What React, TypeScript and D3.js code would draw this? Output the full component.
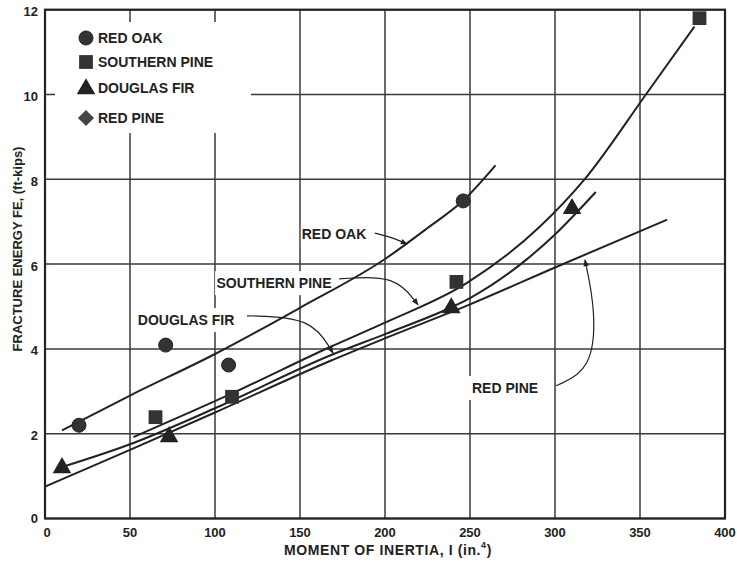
import * as d3 from "d3";
import React from "react";

// measured points (I in in.^4, FE in ft-kips)
const redOakPts: [number, number][] = [[20, 2.2], [71, 4.09], [108, 3.62], [246, 7.49]];
const southernPinePts: [number, number][] = [[65, 2.39], [110, 2.87], [242, 5.58], [385, 11.8]];
const douglasFirPts: [number, number][] = [[10, 1.22], [73, 1.95], [239, 4.99], [310, 7.33]];

// fitted curves
const redOakCurve: [number, number][] = [[10, 2.08], [50, 2.9], [100, 3.88], [150, 4.97], [200, 6.12], [225, 6.85], [246, 7.5], [265, 8.33]];
const southernPineCurve: [number, number][] = [[52, 1.92], [110, 2.95], [168, 4.05], [200, 4.62], [248, 5.55], [291, 6.88], [317, 7.98], [354, 10.03], [382, 11.6]];
const douglasFirCurve: [number, number][] = [[9, 1.2], [50, 1.75], [100, 2.6], [168, 3.85], [200, 4.35], [240, 5.0], [250, 5.2], [283, 6.1], [300, 6.7], [324, 7.7]];
const redPineCurve: [number, number][] = [[0, 0.75], [50, 1.62], [100, 2.5], [168, 3.72], [200, 4.25], [250, 5.05], [300, 5.92], [366, 7.05]];

const xTicks = [0, 50, 100, 150, 200, 250, 300, 350, 400];
const yTicks = [0, 2, 4, 6, 8, 10, 12];

const legendItems = ["RED OAK", "SOUTHERN PINE", "DOUGLAS FIR", "RED PINE"];

// callout labels: text position and leader path (data units)
const callouts = [
    { text: "RED OAK", at: [170, 6.71], path: [[194, 6.73], [205, 6.62], [213, 6.47]] },
    { text: "SOUTHERN PINE", at: [134.7, 5.55], path: [[173, 5.65], [206, 5.75], [219.4, 5.04]] },
    { text: "DOUGLAS FIR", at: [83, 4.68], path: [[118.8, 4.78], [157, 4.75], [169.4, 3.9]] },
    { text: "RED PINE", at: [270.6, 3.08], path: [[300.6, 3.13], [321.8, 3.5], [324, 4.9], [317.6, 6.1]] },
];

const W = 737, H = 563;
const ink = "#222";
const font = "'Liberation Sans', Arial, sans-serif";

const App: React.FC = () => {
    const x = d3.scaleLinear().domain([0, 400]).range([45, 725]);
    const y = d3.scaleLinear().domain([0, 12]).range([518.5, 9.7]);
    const line = d3.line<[number, number]>().x(d => x(d[0])).y(d => y(d[1])).curve(d3.curveMonotoneX);
    const leader = d3.line<number[]>().x(d => x(d[0])).y(d => y(d[1])).curve(d3.curveBasis);

    const square = d3.symbol().type(d3.symbolSquare).size(190)()!;
    const triangle = d3.symbol().type(d3.symbolTriangle).size(150)()!;
    const diamond = d3.symbol().type(d3.symbolSquare).size(130)()!;

    const marker = (i: number) => {
        if (i === 0) return <circle r={7} fill="#333" stroke={ink} strokeWidth={1} />;
        if (i === 1) return <path d={square} fill="#333" />;
        if (i === 2) return <path d={triangle} fill="#222" transform="translate(0,1)" />;
        return <path d={diamond} fill="#444" transform="rotate(45)" />;
    };

    return (
        <svg width={W} height={H} style={{ position: "absolute", left: 0, top: 0, background: "white" }}
            fontFamily={font} fontWeight="bold">
            <defs>
                <marker id="arr" viewBox="0 0 10 10" refX={9} refY={5} markerWidth={9} markerHeight={7} orient="auto" markerUnits="userSpaceOnUse">
                    <path d="M0,1 L10,5 L0,9 Z" fill={ink} />
                </marker>
            </defs>
            {/* grid */}
            {xTicks.map(t => (
                <line key={"gx" + t} x1={x(t)} x2={x(t)} y1={y(0)} y2={y(12)} stroke="#3a3a3a" strokeWidth={1.5} />
            ))}
            {yTicks.map(t => (
                <line key={"gy" + t} x1={x(0)} x2={x(400)} y1={y(t)} y2={y(t)} stroke="#3a3a3a" strokeWidth={1.5} />
            ))}
            {/* legend box clears the grid */}
            <rect x={55} y={22} width={196} height={111} fill="white" />
            {/* label backgrounds */}
            {callouts.map(c => {
                const w = c.text.length * 8.6;
                return <rect key={"bg" + c.text} x={x(c.at[0]) - w / 2 - 3} y={y(c.at[1]) - 12} width={w + 6} height={24} fill="white" />;
            })}
            <rect x={x(0)} y={y(12)} width={x(400) - x(0)} height={y(0) - y(12)} fill="none" stroke={ink} strokeWidth={2.2} />

            {/* curves */}
            {[redOakCurve, southernPineCurve, douglasFirCurve, redPineCurve].map((c, i) => (
                <path key={"c" + i} d={line(c)!} fill="none" stroke={ink} strokeWidth={2} />
            ))}

            {/* points */}
            {redOakPts.map((p, i) => (
                <g key={"ro" + i} transform={`translate(${x(p[0])},${y(p[1])})`}>{marker(0)}</g>
            ))}
            {southernPinePts.map((p, i) => (
                <g key={"sp" + i} transform={`translate(${x(p[0])},${y(p[1])})`}>{marker(1)}</g>
            ))}
            {douglasFirPts.map((p, i) => (
                <g key={"df" + i} transform={`translate(${x(p[0])},${y(p[1])})`}>{marker(2)}</g>
            ))}

            {/* callouts */}
            {callouts.map(c => (
                <g key={"co" + c.text}>
                    <text x={x(c.at[0])} y={y(c.at[1])} textAnchor="middle" dominantBaseline="central" fontSize={14} fill={ink}>{c.text}</text>
                    <path d={leader(c.path)!} fill="none" stroke={ink} strokeWidth={1.2} markerEnd="url(#arr)" />
                </g>
            ))}

            {/* legend */}
            {legendItems.map((name, i) => {
                const ly = [38, 62, 88, 118][i];
                return (
                    <g key={name} transform={`translate(86,${ly})`}>
                        {marker(i)}
                        <text x={12} dominantBaseline="central" fontSize={14} fill={ink}>{name}</text>
                    </g>
                );
            })}

            {/* axes labels */}
            {xTicks.map(t => (
                <text key={"xt" + t} x={x(t) + (t === 0 ? 2 : 0)} y={532} textAnchor="middle" dominantBaseline="central" fontSize={13} fill={ink}>{t}</text>
            ))}
            {yTicks.map(t => (
                <text key={"yt" + t} x={38} y={y(t) + (t === 0 ? 0 : 2)} textAnchor="end" dominantBaseline="central" fontSize={13} fill={ink}>{t}</text>
            ))}
            <text x={388} y={550} textAnchor="middle" dominantBaseline="central" fontSize={14} letterSpacing={0.6} fill={ink}>
                MOMENT OF INERTIA, I (in.<tspan fontSize={9} dy={-5}>4</tspan><tspan dy={5}>)</tspan>
            </text>
            <text transform="translate(17,249) rotate(-90)" textAnchor="middle" dominantBaseline="central" fontSize={13} fill={ink}>
                FRACTURE ENERGY FE, (ft-kips)
            </text>
        </svg>
    );
};

export default App;
